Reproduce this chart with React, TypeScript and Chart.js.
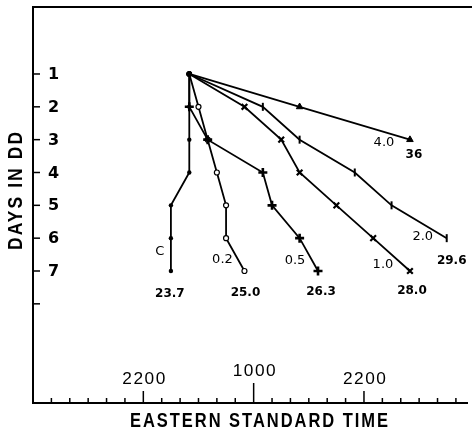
import React, { useEffect, useRef } from "react";
import { Chart, registerables } from "chart.js";

Chart.register(...registerables);

// ---- data (x = hours after 2200 EST of the first evening, y = day in DD) ----
const days = [1, 2, 3, 4, 5, 6, 7];
const seriesNames = ["C", "0.2", "0.5", "1.0", "2.0", "4.0"];
const endValues = ["23.7", "25.0", "26.3", "28.0", "29.6", "36"];
const timeC = [5, 5, 5, 5, 3, 3, 3];
const time02 = [5, 6, 7, 8, 9, 9, 11];
const time05 = [5, 5, 7, 13, 14, 17, 19];
const time10 = [5, 11, 15, 17, 21, 25, 29];
const time20 = [5, 13, 17, 23, 27, 33];
const time40 = [5, 17, 29];
const dayTicks = [1, 2, 3, 4, 5, 6, 7, 8];
const dayTickLabels = ["1", "2", "3", "4", "5", "6", "7", ""];
const hourTicks = [-10, -8, -6, -4, -2, 0, 2, 4, 6, 8, 10, 12, 14, 16, 18, 20, 22, 24, 26, 28, 30, 32, 34];
const hourLabelValues = [0, 12, 24];
const hourLabels = ["2200", "1000", "2200"];

const allTimes = [timeC, time02, time05, time10, time20, time40];

// label offsets (px) relative to each series end point: [nameDx, nameDy, valueDx, valueDy]
const labelOffsets = [
  [-11, -19, -1, 23],
  [-22, -11, 1, 22],
  [-23, -10, 3, 21],
  [-27, -6, 2, 20],
  [-24, -2, 5, 23],
  [-26, 3, 4, 15],
];

const toPoints = (t: number[]) => t.map((x, i) => ({ x, y: days[i] }));

function drawFit(
  ctx: CanvasRenderingContext2D,
  text: string,
  cx: number,
  cy: number,
  font: string,
  target: number,
  spacing: number
) {
  ctx.save();
  ctx.font = font;
  (ctx as any).letterSpacing = spacing + "px";
  const w = ctx.measureText(text).width - spacing;
  ctx.translate(cx, cy);
  ctx.scale(target / w, 1);
  ctx.textAlign = "center";
  ctx.textBaseline = "middle";
  ctx.fillText(text, spacing / 2, 0);
  ctx.restore();
}

function App() {
  const ref = useRef<HTMLCanvasElement | null>(null);

  useEffect(() => {
    const canvas = ref.current;
    if (!canvas) return;

    const firstDot = (style: any) => (ctx: any) => (ctx.dataIndex === 0 ? "circle" : style);
    const firstRadius = (r: number) => (ctx: any) => (ctx.dataIndex === 0 ? 2.8 : r);
    const firstBW = (w: number) => (ctx: any) => (ctx.dataIndex === 0 ? 0 : w);

    const base = {
      borderColor: "#000",
      borderWidth: 1.8,
      showLine: true,
      tension: 0,
      pointBorderColor: "#000",
    };

    const datasets: any[] = [
      {
        ...base,
        label: seriesNames[2],
        data: toPoints(time05),
        pointStyle: firstDot("cross"),
        pointRadius: firstRadius(4.5),
        pointBorderWidth: firstBW(2.6),
        pointBackgroundColor: "#000",
      },
      {
        ...base,
        label: seriesNames[0],
        data: toPoints(timeC),
        pointStyle: "circle",
        pointRadius: firstRadius(2.2),
        pointBorderWidth: 0,
        pointBackgroundColor: "#000",
      },
      {
        ...base,
        label: seriesNames[1],
        data: toPoints(time02),
        pointStyle: "circle",
        pointRadius: firstRadius(2.5),
        pointBorderWidth: firstBW(1.2),
        pointBackgroundColor: (ctx: any) => (ctx.dataIndex === 0 ? "#000" : "#fff"),
      },
      {
        ...base,
        label: seriesNames[3],
        data: toPoints(time10),
        pointStyle: firstDot("crossRot"),
        pointRadius: firstRadius(4),
        pointBorderWidth: firstBW(2.2),
        pointBackgroundColor: "#000",
      },
      {
        ...base,
        label: seriesNames[4],
        data: toPoints(time20),
        pointStyle: firstDot("line"),
        rotation: 90,
        pointRadius: firstRadius(4),
        pointBorderWidth: firstBW(2),
        pointBackgroundColor: "#000",
      },
      {
        ...base,
        label: seriesNames[5],
        data: toPoints(time40),
        pointStyle: firstDot("triangle"),
        pointRadius: firstRadius(3.8),
        pointBorderWidth: firstBW(1),
        pointBackgroundColor: "#000",
      },
    ];

    const decor = {
      id: "decor",
      afterDraw(chart: any) {
        const ctx = chart.ctx as CanvasRenderingContext2D;
        const xs = chart.scales.x;
        const ys = chart.scales.y;
        const a = chart.chartArea;
        ctx.save();
        ctx.strokeStyle = "#000";
        ctx.fillStyle = "#000";
        ctx.lineCap = "butt";

        // frame
        ctx.lineWidth = 2;
        ctx.beginPath();
        ctx.moveTo(a.right, a.top);
        ctx.lineTo(a.left, a.top);
        ctx.lineTo(a.left, a.bottom);
        ctx.lineTo(a.right - 4, a.bottom);
        ctx.stroke();

        // y ticks + labels
        ctx.lineWidth = 1.5;
        ctx.font = "bold 16px 'DejaVu Sans'";
        ctx.textAlign = "left";
        ctx.textBaseline = "middle";
        dayTicks.forEach((d, i) => {
          const y = ys.getPixelForValue(d);
          ctx.beginPath();
          ctx.moveTo(a.left, y);
          ctx.lineTo(a.left + 7, y);
          ctx.stroke();
          if (dayTickLabels[i]) ctx.fillText(dayTickLabels[i], a.left + 15, y + 1);
        });

        // x ticks
        hourTicks.forEach((h) => {
          const x = xs.getPixelForValue(h);
          const len = h === 12 ? 20 : h === 0 || h === 24 ? 12 : 5;
          ctx.beginPath();
          ctx.moveTo(x, a.bottom);
          ctx.lineTo(x, a.bottom - len);
          ctx.stroke();
        });
        hourLabelValues.forEach((h, i) => {
          const x = xs.getPixelForValue(h);
          const y = h === 12 ? a.bottom - 32 : a.bottom - 24;
          drawFit(ctx, hourLabels[i], x + 0.5, y, "17px 'Liberation Sans'", 43, 1.5);
        });

        // axis titles
        drawFit(ctx, "EASTERN STANDARD TIME", 259, 421, "bold 21px 'Liberation Sans'", 258, 2.5);
        ctx.save();
        ctx.translate(16, 191);
        ctx.rotate(-Math.PI / 2);
        drawFit(ctx, "DAYS IN DD", 0, 0, "bold 21px 'Liberation Sans'", 118, 2.5);
        ctx.restore();

        // series labels
        ctx.textAlign = "center";
        ctx.textBaseline = "middle";
        allTimes.forEach((t, i) => {
          const n = t.length - 1;
          const px = xs.getPixelForValue(t[n]);
          const py = ys.getPixelForValue(days[n]);
          const o = labelOffsets[i];
          (ctx as any).letterSpacing = "0px";
          ctx.font = "13px 'DejaVu Sans'";
          ctx.fillText(seriesNames[i], px + o[0], py + o[1]);
          ctx.font = "bold 12px 'DejaVu Sans'";
          ctx.fillText(endValues[i], px + o[2], py + o[3]);
        });
        ctx.restore();
      },
    };

    const chart = new Chart(canvas, {
      type: "scatter",
      data: { datasets },
      options: {
        animation: false,
        responsive: false,
        layout: { autoPadding: false, padding: { left: 33, top: 7, right: 0, bottom: 31 } },
        plugins: { legend: { display: false }, tooltip: { enabled: false } },
        scales: {
          x: { type: "linear", min: -12, max: 35.75, display: false },
          y: { type: "linear", min: -1.04, max: 11.02, reverse: true, display: false },
        },
      },
      plugins: [decor],
    } as any);

    return () => chart.destroy();
  }, []);

  return (
    <div style={{ position: "fixed", left: 0, top: 0, width: 472, height: 434, background: "#fff" }}>
      <canvas ref={ref} width={472} height={434} style={{ width: 472, height: 434, display: "block" }} />
    </div>
  );
}

export default App;
